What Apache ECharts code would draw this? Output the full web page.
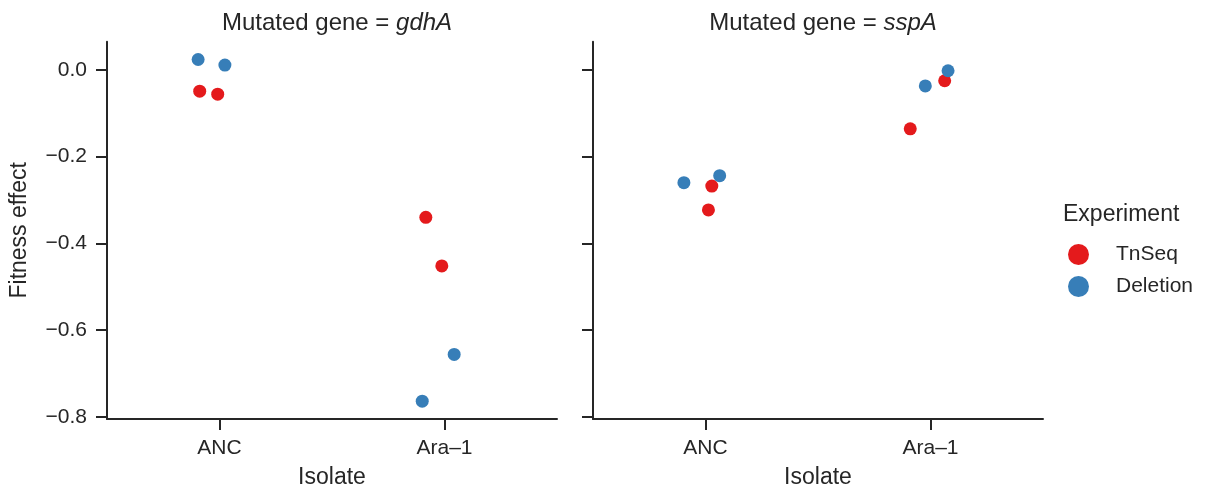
<!DOCTYPE html>
<html>
<head>
<meta charset="utf-8">
<script src="https://cdn.jsdelivr.net/npm/echarts@6/dist/echarts.min.js"></script>
<style>html,body{margin:0;padding:0;background:#fff}#c{width:1205px;height:494px}</style>
</head>
<body>
<div id="c"></div>
<script>
// ---- data ----
const isolates = ['ANC', 'Ara\u20131'];
const genes = ['gdhA', 'sspA'];
const experiments = ['TnSeq', 'Deletion'];
const yTicks = [-0.8, -0.6, -0.4, -0.2, 0.0];
// each point: [isolate, jitter offset (category units), fitness effect]
const tnseq_gdhA = [['ANC', -0.088, -0.049], ['ANC', -0.008, -0.056], ['Ara\u20131', -0.083, -0.340], ['Ara\u20131', -0.012, -0.452]];
const deletion_gdhA = [['ANC', -0.095, 0.024], ['ANC', 0.024, 0.011], ['Ara\u20131', 0.043, -0.656], ['Ara\u20131', -0.099, -0.764]];
const tnseq_sspA = [['ANC', 0.028, -0.268], ['ANC', 0.013, -0.323], ['Ara\u20131', -0.090, -0.136], ['Ara\u20131', 0.063, -0.025]];
const deletion_sspA = [['ANC', -0.096, -0.260], ['ANC', 0.063, -0.244], ['Ara\u20131', -0.023, -0.037], ['Ara\u20131', 0.078, -0.002]];

const colors = { TnSeq: '#e41a1c', Deletion: '#377eb8' };
const ink = '#262626';
const font = 'Liberation Sans, Arial, sans-serif';

function toXY(pts) { return pts.map(p => [isolates.indexOf(p[0]) + p[1], p[2]]); }

const yMin = -0.805, yMax = 0.065;
const grids = [
  { left: 107, top: 41.7, width: 450, height: 377.3 },
  { left: 593, top: 41.7, width: 450, height: 377.3 }
];

function xAxis(i) {
  return {
    type: 'value', gridIndex: i, min: -0.5, max: 1.5,
    name: 'Isolate', nameLocation: 'middle', nameGap: 47,
    nameTextStyle: { color: ink, fontSize: 23, fontFamily: font },
    axisLine: { show: true, onZero: false, lineStyle: { color: ink, width: 2 } },
    axisTick: { show: true, length: 11, lineStyle: { color: ink, width: 2 }, customValues: [0, 1] },
    axisLabel: { color: ink, fontSize: 21, fontFamily: font, margin: 19, customValues: [0, 1],
      formatter: v => isolates[Math.round(v)] },
    splitLine: { show: false }
  };
}
function yAxis(i) {
  return {
    type: 'value', gridIndex: i, min: yMin, max: yMax,
    name: i === 0 ? 'Fitness effect' : '', nameLocation: 'middle', nameGap: 76,
    nameTextStyle: { color: ink, fontSize: 23, fontFamily: font },
    axisLine: { show: true, onZero: false, lineStyle: { color: ink, width: 2 } },
    axisTick: { show: true, length: 11, lineStyle: { color: ink, width: 2 }, customValues: yTicks },
    axisLabel: { show: i === 0, color: ink, fontSize: 21, fontFamily: font, margin: 20, customValues: yTicks,
      formatter: v => (v < 0 ? '\u2212' : '') + Math.abs(v).toFixed(1) },
    splitLine: { show: false }
  };
}

function series(name, pts, i) {
  return {
    type: 'scatter', name: name, xAxisIndex: i, yAxisIndex: i,
    data: toXY(pts), symbolSize: 13,
    itemStyle: { color: colors[name], opacity: 1 },
    emphasis: { disabled: true }
  };
}

const titles = genes.map((g, i) => ({
  text: '{a|Mutated gene = }{b|' + g + '}',
  left: grids[i].left + grids[i].width / 2, top: 6, textAlign: 'center',
  textStyle: { fontWeight: 'normal', rich: {
    a: { fontSize: 24, color: ink, fontFamily: font, fontWeight: 'normal' },
    b: { fontSize: 24, color: ink, fontFamily: font, fontWeight: 'normal', fontStyle: 'italic' }
  } }
}));

const chart = echarts.init(document.getElementById('c'), null, { renderer: 'canvas' });
chart.setOption({
  animation: false,
  backgroundColor: '#fff',
  title: titles,
  grid: grids,
  xAxis: [xAxis(0), xAxis(1)],
  yAxis: [yAxis(0), yAxis(1)],
  legend: {
    data: experiments, orient: 'vertical', left: 1063, top: 239,
    icon: 'circle', itemWidth: 21, itemHeight: 21, itemGap: 11,
    textStyle: { color: ink, fontSize: 21, fontFamily: font, padding: [0, 0, 0, 22] }
  },
  graphic: [{
    type: 'text', left: 1063, top: 203,
    style: { text: 'Experiment', fill: ink, fontSize: 23, fontFamily: font }
  }],
  series: [
    series('TnSeq', tnseq_gdhA, 0), series('Deletion', deletion_gdhA, 0),
    series('TnSeq', tnseq_sspA, 1), series('Deletion', deletion_sspA, 1)
  ]
});
</script>
</body>
</html>
